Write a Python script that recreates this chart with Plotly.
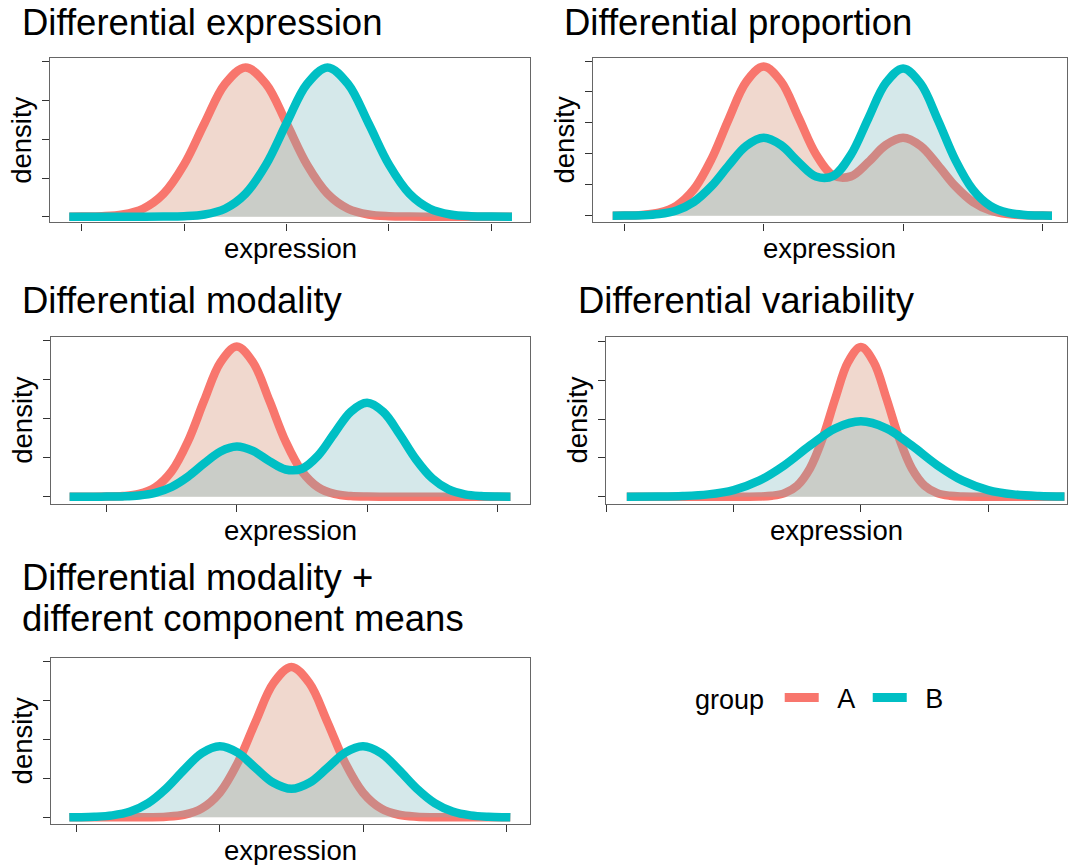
import plotly.graph_objects as go

W, H = 1071, 865
RED = "#F8766D"
BLUE = "#00BFC4"
RED_FILL = "rgba(205,125,92,0.30)"
BLUE_FILL = "rgba(115,178,185,0.30)"
FONT = "Liberation Sans, Arial, Helvetica, sans-serif"

# ---------------- data ----------------
groups = ["A", "B"]

# Panel 1: Differential expression
p1_x = [-5.3, -5.0, -4.5, -4.0, -3.5, -3.0, -2.5, -2.0, -1.5, -1.0, -0.5, 0.0,
        0.5, 1.0, 1.5, 2.0, 2.5, 3.0, 3.5, 4.0, 4.5, 5.0, 5.5]
p1_a = [0, 0.0002, 0.0012, 0.0057, 0.0206, 0.0593, 0.1345, 0.2416, 0.343, 0.386,
        0.343, 0.2416, 0.1345, 0.0593, 0.0206, 0.0057, 0.0012, 0.0002, 0, 0, 0, 0, 0]
p1_b = [0, 0, 0, 0, 0, 0.0002, 0.0012, 0.0057, 0.0206, 0.0593, 0.1345, 0.2416,
        0.343, 0.386, 0.343, 0.2416, 0.1345, 0.0593, 0.0206, 0.0057, 0.0012, 0.0002, 0]
p1_xticks = [-5, -2.5, 0, 2.5, 5]
p1_yticks = [0, 0.1, 0.2, 0.3, 0.4]

# Panel 2: Differential proportion
p2_x = [-4.33, -4.0, -3.5, -3.0, -2.5, -2.0, -1.5, -1.0, -0.5, 0.0, 0.5, 1.0, 1.5,
        2.0, 2.5, 3.0, 3.5, 4.0, 4.5, 5.0, 5.5, 6.0, 6.5, 7.0, 7.5, 8.0, 8.27]
p2_a = [0, 0.0002, 0.0012, 0.0049, 0.0161, 0.0427, 0.0910, 0.1564, 0.2163, 0.2411,
        0.2169, 0.1590, 0.0994, 0.0650, 0.0636, 0.0865, 0.1140, 0.1259, 0.1128, 0.0816,
        0.0475, 0.0223, 0.0084, 0.0026, 0.0006, 0.0001, 0]
p2_b = [0, 0.0001, 0.0006, 0.0026, 0.0084, 0.0223, 0.0475, 0.0816, 0.1128, 0.1259,
        0.1140, 0.0865, 0.0634, 0.0644, 0.0983, 0.1570, 0.2142, 0.2381, 0.2136, 0.1544,
        0.0899, 0.0422, 0.0159, 0.0048, 0.0012, 0.0002, 0]
p2_xticks = [-4, 0, 4, 8]
p2_yticks = [0, 0.05, 0.10, 0.15, 0.20, 0.25]

# Panel 3: Differential modality
p3_x = [-5.13, -4.5, -4.0, -3.5, -3.0, -2.5, -2.0, -1.5, -1.0, -0.5, 0.0, 0.5, 1.0,
        1.5, 2.0, 2.5, 3.0, 3.5, 4.0, 4.5, 5.0, 5.5, 6.0, 6.5, 7.0, 7.5, 8.0, 8.4]
p3_a = [0, 0, 0.0003, 0.0016, 0.0070, 0.0238, 0.0647, 0.1411, 0.2461, 0.3436, 0.384,
        0.3436, 0.2461, 0.1411, 0.0647, 0.0238, 0.0070, 0.0016, 0.0003, 0, 0, 0, 0, 0,
        0, 0, 0, 0]
p3_b = [0, 0, 0.0002, 0.0008, 0.0032, 0.0099, 0.0249, 0.0509, 0.0850, 0.1156, 0.1283,
        0.1171, 0.0910, 0.0695, 0.0716, 0.1054, 0.1626, 0.2174, 0.2402, 0.2166, 0.1594,
        0.0955, 0.0467, 0.0186, 0.0060, 0.0016, 0.0003, 0]
p3_xticks = [-4, 0, 4, 8]
p3_yticks = [0, 0.1, 0.2, 0.3, 0.4]

# Panel 4: Differential variability
p4_xa = [-9.2, -8, -7, -6, -5, -4.5, -4, -3.5, -3, -2.5, -2, -1.5, -1, -0.5, 0, 0.5,
         1, 1.5, 2, 2.5, 3, 3.5, 4, 4.5, 5, 6, 7, 8]
p4_a = [0, 0, 0, 0, 0, 0.0001, 0.0005, 0.0024, 0.0092, 0.0287, 0.0731, 0.1512, 0.2541,
        0.347, 0.385, 0.347, 0.2541, 0.1512, 0.0731, 0.0287, 0.0092, 0.0024, 0.0005,
        0.0001, 0, 0, 0, 0]
p4_xb = [-9.2, -8, -7, -6, -5, -4, -3, -2, -1, 0, 1, 2, 3, 4, 5, 6, 7, 8]
p4_b = [0.0001, 0.0004, 0.0017, 0.0060, 0.0172, 0.0412, 0.0812, 0.1317, 0.1761, 0.194,
        0.1761, 0.1317, 0.0812, 0.0412, 0.0172, 0.0060, 0.0017, 0.0004]
p4_xticks = [-10, -5, 0, 5]
p4_yticks = [0, 0.1, 0.2, 0.3, 0.4]

# Panel 5: Differential modality + different component means
p5_x = [-4.2, -4.0, -3.5, -3.0, -2.5, -2.0, -1.5, -1.0, -0.5, 0.0, 0.5, 1.0, 1.5, 2.0,
        2.5, 3.0, 3.5, 4.0, 4.5, 5.0, 5.5, 6.0, 6.5, 7.0, 7.5, 8.0, 8.11]
p5_a = [0, 0, 0, 0, 0, 0.0003, 0.0015, 0.0066, 0.0230, 0.0634, 0.1399, 0.2460, 0.3453,
        0.3866, 0.3453, 0.2460, 0.1399, 0.0634, 0.0230, 0.0066, 0.0015, 0.0003, 0, 0, 0,
        0, 0]
p5_b = [0, 0.0003, 0.0013, 0.0049, 0.0148, 0.0366, 0.0739, 0.1220, 0.1650, 0.1826,
        0.1662, 0.1269, 0.0887, 0.0732, 0.0887, 0.1269, 0.1662, 0.1826, 0.1650, 0.1220,
        0.0739, 0.0366, 0.0148, 0.0049, 0.0013, 0.0003, 0]
p5_xticks = [-4, 0, 4, 8]
p5_yticks = [0, 0.1, 0.2, 0.3, 0.4]

titles = [
    ["Differential expression"],
    ["Differential proportion"],
    ["Differential modality"],
    ["Differential variability"],
    ["Differential modality +", "different component means"],
]
x_title = "expression"
y_title = "density"
legend_title = "group"

# ---------------- layout geometry (pixels) ----------------
panels = [
    dict(box=(50, 530, 58.3, 222.3), xr=[-5.77, 5.94], yr=[-0.0145, 0.4095],
         xa=p1_x, a=p1_a, xb=p1_x, b=p1_b, xt=p1_xticks, yt=p1_yticks,
         tx=21, tb=[35]),
    dict(box=(592.7, 1067, 58.3, 222.3), xr=[-4.903, 8.70], yr=[-0.0107, 0.2544],
         xa=p2_x, a=p2_a, xb=p2_x, b=p2_b, xt=p2_xticks, yt=p2_yticks,
         tx=563, tb=[35]),
    dict(box=(50.7, 530, 336.9, 504.2), xr=[-5.71, 9.0], yr=[-0.0192, 0.4087],
         xa=p3_x, a=p3_a, xb=p3_x, b=p3_b, xt=p3_xticks, yt=p3_yticks,
         tx=21, tb=[313.6]),
    dict(box=(605.9, 1067, 336.9, 503.5), xr=[-10.02, 8.10], yr=[-0.0175, 0.4113],
         xa=p4_xa, a=p4_a, xb=p4_xb, b=p4_b, xt=p4_xticks, yt=p4_yticks,
         tx=577, tb=[313.6]),
    dict(box=(50.7, 530, 658.4, 824), xr=[-4.72, 8.66], yr=[-0.0172, 0.4087],
         xa=p5_x, a=p5_a, xb=p5_x, b=p5_b, xt=p5_xticks, yt=p5_yticks,
         tx=21, tb=[590.5, 631.5]),
]

TITLE_SIZE = 36.5
AXIS_SIZE = 27.5


def fx(p):
    return p / W


def fy(p):
    return 1 - p / H


fig = go.Figure()
annotations = []
layout_axes = {}

for i, pnl in enumerate(panels, start=1):
    sfx = "" if i == 1 else str(i)
    xref = "x" + sfx
    yref = "y" + sfx
    fig.add_trace(go.Scatter(
        x=pnl["xa"], y=pnl["a"], mode="lines", name=groups[0], showlegend=False,
        line=dict(color=RED, width=8.5, shape="spline", smoothing=1.0),
        fill="tozeroy", fillcolor=RED_FILL, xaxis=xref, yaxis=yref,
        hoverinfo="skip"))
    fig.add_trace(go.Scatter(
        x=pnl["xb"], y=pnl["b"], mode="lines", name=groups[1], showlegend=False,
        line=dict(color=BLUE, width=8.5, shape="spline", smoothing=1.0),
        fill="tozeroy", fillcolor=BLUE_FILL, xaxis=xref, yaxis=yref,
        hoverinfo="skip"))
    l, r, t, b = pnl["box"]
    common = dict(showgrid=False, zeroline=False, showticklabels=False,
                  ticks="outside", ticklen=7, tickwidth=1.4, tickcolor="#333333",
                  showline=True, linecolor="#666666", linewidth=1.4, mirror=True,
                  fixedrange=True)
    layout_axes["xaxis" + sfx] = dict(common, domain=[fx(l), fx(r)], range=pnl["xr"],
                                      tickvals=pnl["xt"], anchor=yref)
    layout_axes["yaxis" + sfx] = dict(common, domain=[fy(b), fy(t)], range=pnl["yr"],
                                      tickvals=pnl["yt"], anchor=xref)
    for line, base in zip(titles[i - 1], pnl["tb"]):
        annotations.append(dict(text=line, x=fx(pnl["tx"]),
                                y=fy(base - 0.35 * TITLE_SIZE),
                                xref="paper", yref="paper", xanchor="left",
                                yanchor="middle", showarrow=False, borderpad=0,
                                font=dict(family=FONT, size=TITLE_SIZE, color="black")))
    annotations.append(dict(text=x_title, x=fx((l + r) / 2), y=fy(b + 26.5),
                            xref="paper", yref="paper", xanchor="center",
                            yanchor="middle", showarrow=False,
                            font=dict(family=FONT, size=AXIS_SIZE, color="black")))
    annotations.append(dict(text=y_title, x=fx(l - 28.5), y=fy((t + b) / 2),
                            xref="paper", yref="paper", xanchor="center",
                            yanchor="middle", showarrow=False, textangle=-90,
                            font=dict(family=FONT, size=AXIS_SIZE, color="black")))

# legend-only entries (spacing via en / no-break spaces)
for g, c in zip(groups, [RED, BLUE]):
    fig.add_trace(go.Scatter(x=[None], y=[None], mode="lines",
                             name="\u2002" + g + "\u00a0",
                             line=dict(color=c, width=9), showlegend=True))

fig.update_layout(
    width=W, height=H, margin=dict(l=0, r=0, t=0, b=0),
    paper_bgcolor="white", plot_bgcolor="white",
    font=dict(family=FONT, size=AXIS_SIZE, color="black"),
    annotations=annotations,
    showlegend=True,
    legend=dict(orientation="h", x=fx(693), y=fy(698), xanchor="left",
                yanchor="middle", bgcolor="rgba(0,0,0,0)",
                title=dict(text=legend_title + "\u2009\u200a", side="left",
                           font=dict(family=FONT, size=27)),
                font=dict(family=FONT, size=27), itemwidth=34),
    **layout_axes,
)

fig.write_html("out.html")
